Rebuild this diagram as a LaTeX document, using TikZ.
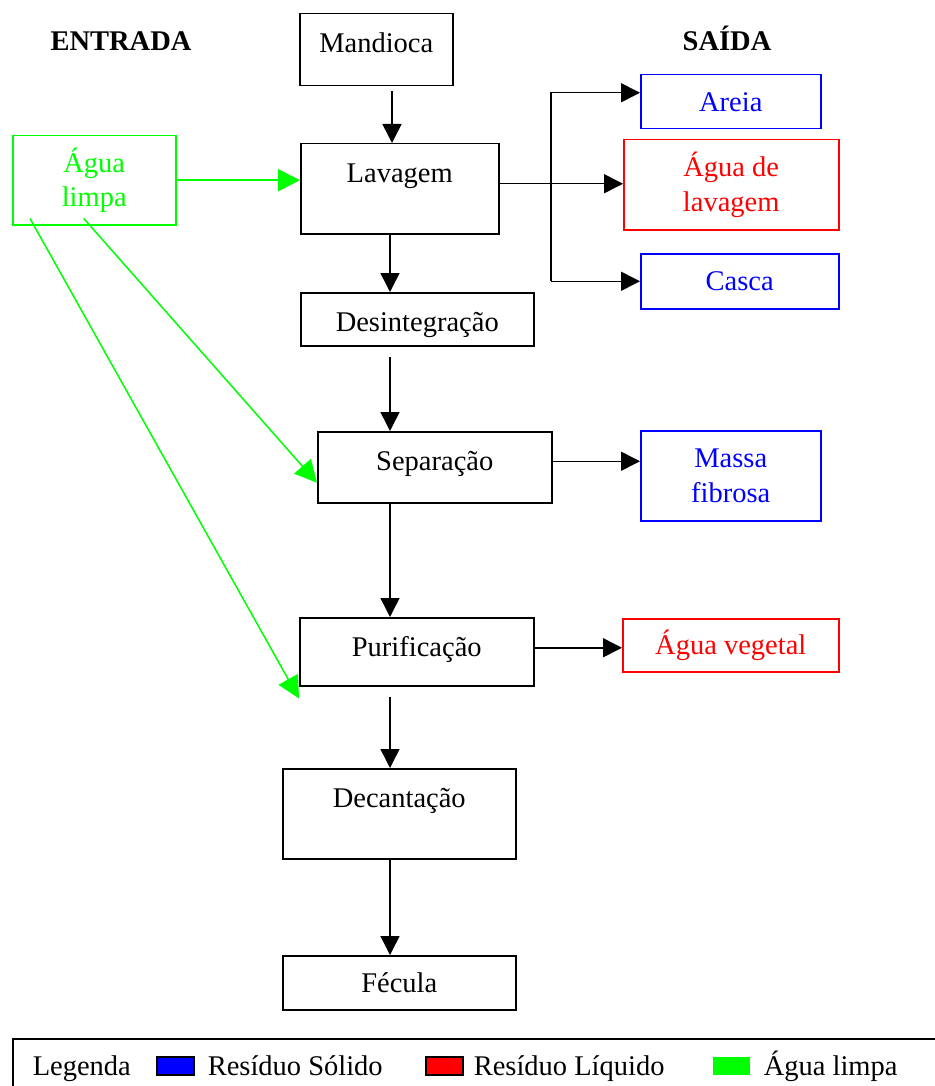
\documentclass[tikz,border=0pt]{standalone}
\usepackage{fontspec}
\setmainfont{Liberation Serif}
\usetikzlibrary{arrows.meta, calc}
\definecolor{solido}{RGB}{0,0,255}
\definecolor{liquido}{RGB}{255,0,0}
\definecolor{limpa}{RGB}{0,255,0}

\begin{document}
\begin{tikzpicture}[x=1pt, y=-1pt, line width=1.5pt,
  every node/.style={font=\fontsize{28.5}{34.5}\selectfont},
  stage/.style={draw, anchor=north west, inner sep=0pt, align=center, text height=39pt},
  exitbox/.style={draw=#1, text=#1, anchor=north west, inner sep=0pt, align=center},
  heading/.style={anchor=base, font=\fontsize{28.5}{34.5}\selectfont\bfseries},
  flow/.style={-{Triangle[length=19pt, width=19pt]}},
  waterflow/.style={-{Triangle[length=22pt, width=22pt]}},
  keybox/.style={fill=#1, anchor=north west, inner sep=0pt, minimum width=37pt, minimum height=18pt},
  keytext/.style={anchor=base west, inner sep=0pt}]
				\useasboundingbox (0,0) rectangle (934,1086);

				% etapas do processo
				\node [stage, text width=153pt, text depth=33pt] (mand) at (299,13) {Mandioca};
				\node [stage, text width=198pt, text depth=51pt] (lav) at (300,143) {Lavagem};
				\node [stage, text width=233pt, text depth=14pt] (desint) at (300,292) {Desintegração};
				\node [stage, text width=234pt, text depth=32pt] (sep) at (317,431) {Separação};
				\node [stage, text width=234pt, text depth=29pt] (purif) at (299,617) {Purificação};
				\node [stage, text width=233pt, text depth=51pt] (decant) at (282,768) {Decantação};
				\node [stage, text width=233pt, text height=37pt, text depth=17pt] (fecula) at (282,955) {Fécula};

				% entradas e saidas
				\node [heading] (entrada) at (121,51) {ENTRADA};
				\node [heading] (saida) at (727,51) {SAÍDA};
				\node [exitbox=limpa, minimum width=163pt, minimum height=89pt] (agua) at (12,135) {Água\\limpa};
				\node [exitbox=solido, minimum width=180pt, minimum height=54pt] (areia) at (640,74) {Areia};
				\node [exitbox=liquido, minimum width=215pt, minimum height=90pt] (agualav) at (623,139) {Água de\\lavagem};
				\node [exitbox=solido, minimum width=198pt, minimum height=55pt] (casca) at (640,253) {Casca};
				\node [exitbox=solido, minimum width=180pt, minimum height=90pt] (massa) at (640,430) {Massa\\fibrosa};
				\node [exitbox=liquido, minimum width=216pt, minimum height=53pt] (veg) at (622,618) {Água vegetal};

				\coordinate (spine) at (390,0);
				\coordinate (fork) at (551,0);

				\path[every edge/.append style={flow}]
				($(mand.south -| spine)+(2,5)$) edge ($(lav.north -| spine)+(2,0)$)
				(lav.south -| spine) edge (desint.north -| spine)
				($(desint.south -| spine)+(0,10)$) edge (sep.north -| spine)
				(sep.south -| spine) edge (purif.north -| spine)
				($(purif.south -| spine)+(0,10)$) edge (decant.north -| spine)
				(decant.south -| spine) edge (fecula.north -| spine)
				($(lav.east)+(0,-5)$) edge ($(agualav.west |- lav.east)+(0,-5)$)
				(fork |- casca.west) edge (casca.west)
				($(sep.east)+(0,-6)$) edge ($(massa.west |- sep.east)+(0,-6)$)
				($(purif.east)+(0,-4)$) edge ($(veg.west |- purif.east)+(0,-4)$);
				\draw[flow] (fork |- casca.west) |- ($(areia.west)+(0,-9)$);

				\path[limpa, every edge/.append style={waterflow}]
				(agua.east) edge (agua.east -| lav.west)
				($(agua.south)+(-10.5,-7)$) edge ($(sep.west)+(0,15.5)$)
				($(agua.south west)+(18,-7)$) edge ($(purif.south west)+(0,12)$);

				% legenda
				\node [draw, anchor=north west, inner sep=0pt, minimum width=948pt, minimum height=72pt] (legenda) at (12,1038) {};
				\node [keytext] (lg) at (32,1075) {Legenda};
				\node [keybox=solido, draw] (ksol) at (156,1056) {};
				\node [keytext] (tsol) at (207,1075) {Resíduo Sólido};
				\node [keybox=liquido, draw] (kliq) at (425,1056) {};
				\node [keytext] (tliq) at (473,1075) {Resíduo Líquido};
				\node [keybox=limpa] (klim) at (712,1056) {};
				\node [keytext] (tlim) at (763,1075) {Água limpa};
			\end{tikzpicture}
\end{document}
